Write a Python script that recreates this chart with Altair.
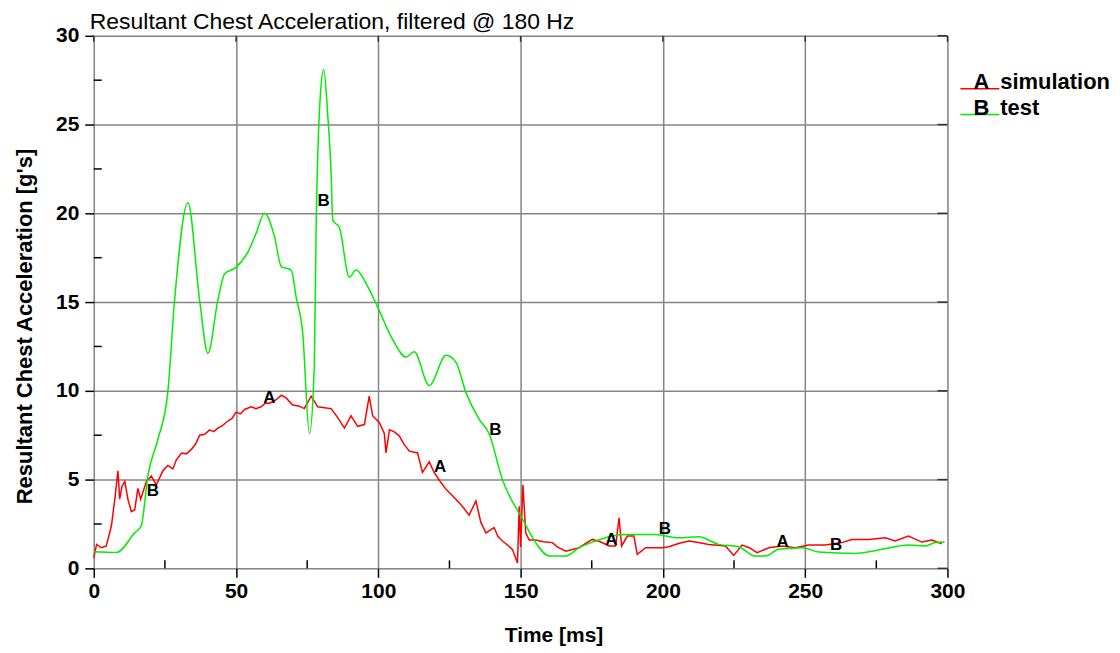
import altair as alt
import pandas as pd

# ---- data ----
sim_t = [0, 1, 2.7, 4.4, 6.2, 7.4, 8.5, 9.1, 9.9, 10.9, 12, 13.2, 14.4, 15.5, 16.5, 17.3, 18.5, 20.2, 22,
         24.3, 26, 27.8, 29, 30.8, 32.5, 34.3, 35.8, 37.2, 39, 40.7, 42.2, 43.6, 45.3, 47.1, 48.6, 50, 51.5,
         53, 55.3, 57, 58.8, 60.3, 61.8, 64.1, 65.9, 67.6, 69.9, 72, 74, 76.4, 78.7, 81, 83.4, 85.5, 88.1,
         90.4, 92.7, 95.1, 96.8, 98, 100.4, 102.1, 102.7, 103.9, 105.5, 107.4, 109, 110.9, 113.8, 115.5,
         117.9, 119.6, 121.5, 123.8, 126, 128.4, 130, 131.9, 134.3, 136, 137.8, 140.7, 142, 143.6, 145.5,
         147.1, 148.9, 149.5, 150.0, 150.8, 151.8, 153, 155.3, 158, 161.2, 163, 165.9, 170.5, 175.2, 178,
         181.1, 183.4, 184.6, 185.5, 187.5, 189.8, 191, 193.9, 199.8, 202.1, 205.5, 209.1, 212.5, 216.1,
         222, 224.9, 227.8, 230.5, 233.1, 237.2, 241.9, 246.6, 251.2, 257.1, 262.9, 266.4, 272.3, 278.1,
         281.6, 286.3, 291, 294.5, 298]
sim_y = [0.6, 1.35, 1.16, 1.26, 2.4, 3.9, 5.5, 3.9, 4.6, 4.9, 3.9, 3.2, 3.3, 4.5, 3.9, 4.3, 4.9, 5.2, 4.7,
         5.5, 5.8, 5.6, 6.1, 6.5, 6.45, 6.7, 7.0, 7.5, 7.55, 7.8, 7.7, 7.9, 8.05, 8.3, 8.45, 8.8, 8.7,
         8.95, 9.1, 9.0, 9.1, 9.3, 9.3, 9.5, 9.75, 9.6, 9.2, 9.15, 9.0, 9.7, 9.1, 9.05, 9.0, 8.55, 7.9,
         8.6, 8.0, 8.1, 9.7, 8.6, 8.2, 7.6, 6.5, 7.8, 7.7, 7.45, 7.0, 6.6, 6.5, 5.4,
         6.0, 5.4, 4.95, 4.45, 4.1, 3.7, 3.4, 3.0, 3.8, 2.6, 2.0, 2.3, 1.8, 1.54, 1.3,
         1.07, 0.3, 3.5, 1.2, 4.7, 2.0, 1.6, 1.6, 1.5, 1.45, 1.2, 0.97, 1.16, 1.63, 1.5,
         1.26, 1.26, 2.85, 1.26, 1.82, 1.82, 0.79, 1.16, 1.16, 1.22, 1.4, 1.54, 1.45, 1.35,
         1.26, 0.73, 1.31, 1.15, 0.88, 1.16, 1.26, 1.16, 1.31, 1.31, 1.45, 1.63, 1.63, 1.72,
         1.54, 1.82, 1.48, 1.59, 1.39]

test_t = [0, 8, 14.4, 16.7, 19, 22.6, 26, 28.4, 33.1, 37.2, 40.1, 43.6, 46, 49.5, 54.1, 57.1, 60, 63.5,
          65.9, 69.4, 71.1, 73.4, 75.8, 77.5, 78.1, 79.6, 80.8, 82.2, 83.4, 84, 86.3, 89.8, 92.2, 96.2,
          99.8, 105, 109.7, 112.6, 117.9, 123.8, 127.3, 130.8, 135.4, 138.9, 143.6, 150.6, 155.3, 160,
          165.9, 170.5, 176.4, 182.2, 188, 197.4, 205.6, 212.6, 219.6, 226.7, 232.5, 236, 240.7, 248.9,
          254.7, 267.6, 277, 286.3, 292.2, 295.7, 299]
test_y = [0.94, 0.9, 2.0, 2.4, 5.2, 7.3, 9.9, 15.1, 20.6, 15.1, 12.1, 15.1, 16.6, 16.9, 17.8, 18.9, 20.0, 18.7,
          17.0, 16.8, 15.3, 13.3, 7.6, 11.4, 18.7, 26.6, 28.1, 25.6, 22.3, 19.6, 19.2, 16.4, 16.8, 15.9,
          14.7, 12.9, 11.9, 12.2, 10.3, 12.0, 11.6, 9.9, 8.4, 7.6, 5.0, 2.8, 1.45, 0.7,
          0.7, 1.16, 1.54, 1.82, 1.9, 1.9, 1.72, 1.78, 1.35, 1.22, 0.69, 0.69, 1.07, 1.16,
          0.92, 0.84, 1.07, 1.31, 1.26, 1.45, 1.48]

label_text = ["A", "A", "A", "A", "B", "B", "B", "B", "B"]
label_t = [61.75, 121.75, 181.9, 242.1, 20.8, 80.8, 141.1, 200.7, 260.9]
label_y = [9.57, 5.7, 1.6, 1.48, 4.35, 20.7, 7.78, 2.2, 1.29]

x_major = [0, 50, 100, 150, 200, 250, 300]
y_major = [0, 5, 10, 15, 20, 25, 30]
x_minor = [25, 75, 125, 175, 225, 275]
y_minor = [2.5, 7.5, 12.5, 17.5, 22.5, 27.5]

legend_letters = ["A", "B"]
legend_names = ["simulation", "test"]
legend_colors = ["#ff0000", "#00ee00"]

chart_title = ["Resultant Chest Acceleration, filtered @ 180 Hz"]

W, H = 856, 534
FONT = "Liberation Sans"

df_sim = pd.DataFrame({"t": sim_t, "g": sim_y})
df_test = pd.DataFrame({"t": test_t, "g": test_y})
df_lab = pd.DataFrame({"t": label_t, "g": label_y, "lab": label_text})

xs = alt.Scale(domain=[0, 300], nice=False, zero=False)
ys = alt.Scale(domain=[0, 30], nice=False, zero=False)

base_x = alt.X("t:Q", scale=xs,
               axis=alt.Axis(values=x_major, title="Time [ms]", grid=True, gridColor="#858585",
                             gridWidth=1.5, gridOpacity=1, tickSize=9, tickColor="#000", tickWidth=1.5,
                             domain=False, labelFont=FONT, labelFontSize=21, labelFontWeight="bold",
                             labelColor="#000", labelPadding=3, labelFlush=False,
                             titleFont=FONT, titleFontSize=21, titleFontWeight="bold", titleColor="#000",
                             titleX=461, titleY=73, titleAlign="center", titleBaseline="alphabetic"))
base_y = alt.Y("g:Q", scale=ys,
               axis=alt.Axis(values=y_major, title="Resultant Chest Acceleration [g's]", grid=True,
                             gridColor="#858585", gridWidth=1.5, gridOpacity=1, tickSize=9,
                             tickColor="#000", tickWidth=1.5, domain=False, labelFont=FONT,
                             labelFontSize=21, labelFontWeight="bold", labelColor="#000",
                             labelPadding=6, labelFlush=False, titleFont=FONT, titleFontSize=22,
                             titleFontWeight="bold", titleColor="#000", titleX=-62, titleY=291,
                             titleAngle=270, titleAlign="center", titleBaseline="alphabetic"))

sim_line = alt.Chart(df_sim).mark_line(strokeWidth=1.5, color=legend_colors[0]).encode(x=base_x, y=base_y)
test_line = alt.Chart(df_test).mark_line(strokeWidth=1.5, color=legend_colors[1],
                                         interpolate="monotone").encode(
    x=alt.X("t:Q", scale=xs), y=alt.Y("g:Q", scale=ys))

labels = alt.Chart(df_lab).mark_text(font=FONT, fontSize=17, fontWeight="bold", color="#000").encode(
    x=alt.X("t:Q", scale=xs), y=alt.Y("g:Q", scale=ys), text="lab:N")

# minor ticks (inward)
xminor = alt.Chart(pd.DataFrame({"t": x_minor})).mark_rule(color="#000", strokeWidth=1.5).encode(
    x=alt.X("t:Q", scale=xs), y=alt.value(H), y2=alt.value(H - 8))
yminor = alt.Chart(pd.DataFrame({"g": y_minor})).mark_rule(color="#000", strokeWidth=1.5).encode(
    y=alt.Y("g:Q", scale=ys), x=alt.value(0), x2=alt.value(8))
# top / right ticks
xtop = alt.Chart(pd.DataFrame({"t": x_major})).mark_rule(color="#333", strokeWidth=1.5).encode(
    x=alt.X("t:Q", scale=xs), y=alt.value(0), y2=alt.value(6))
yright = alt.Chart(pd.DataFrame({"g": y_major})).mark_rule(color="#333", strokeWidth=1.5).encode(
    y=alt.Y("g:Q", scale=ys), x=alt.value(W - 10), x2=alt.value(W))

# chart title as text above the plot
title = alt.Chart(pd.DataFrame({"txt": chart_title})).mark_text(
    font=FONT, fontSize=23, align="left", baseline="alphabetic", color="#000").encode(
    x=alt.value(-4), y=alt.value(-7), text="txt:N")

# legend (letter with coloured underline, then name)
leg = pd.DataFrame({"letter": legend_letters, "name": legend_names, "color": legend_colors,
                    "yy": [53, 79]})
leg_rule = alt.Chart(leg).mark_rule(strokeWidth=1.5).encode(
    x=alt.value(869), x2=alt.value(908), y=alt.Y("yy:Q", scale=None),
    color=alt.Color("color:N", scale=None))
leg_letter = alt.Chart(leg).mark_text(font=FONT, fontSize=22, fontWeight="bold", align="left",
                                      baseline="alphabetic", color="#000").encode(
    x=alt.value(882), y=alt.Y("yy:Q", scale=None), text="letter:N")
leg_name = alt.Chart(leg).mark_text(font=FONT, fontSize=22, fontWeight="bold", align="left",
                                    baseline="alphabetic", color="#000").encode(
    x=alt.value(909), y=alt.Y("yy:Q", scale=None), text="name:N")

chart = alt.layer(sim_line, test_line, labels, xminor, yminor, xtop, yright, title,
                  leg_rule, leg_letter, leg_name).properties(
    width=W, height=H,
    autosize=alt.AutoSizeParams(type="none"),
    padding={"left": 86, "top": 27, "right": 165, "bottom": 82},
).configure_view(stroke="#000", strokeWidth=2, clip=False).configure(background="#ffffff")

chart.save("out.html", embed_options={"renderer": "svg", "actions": False})
